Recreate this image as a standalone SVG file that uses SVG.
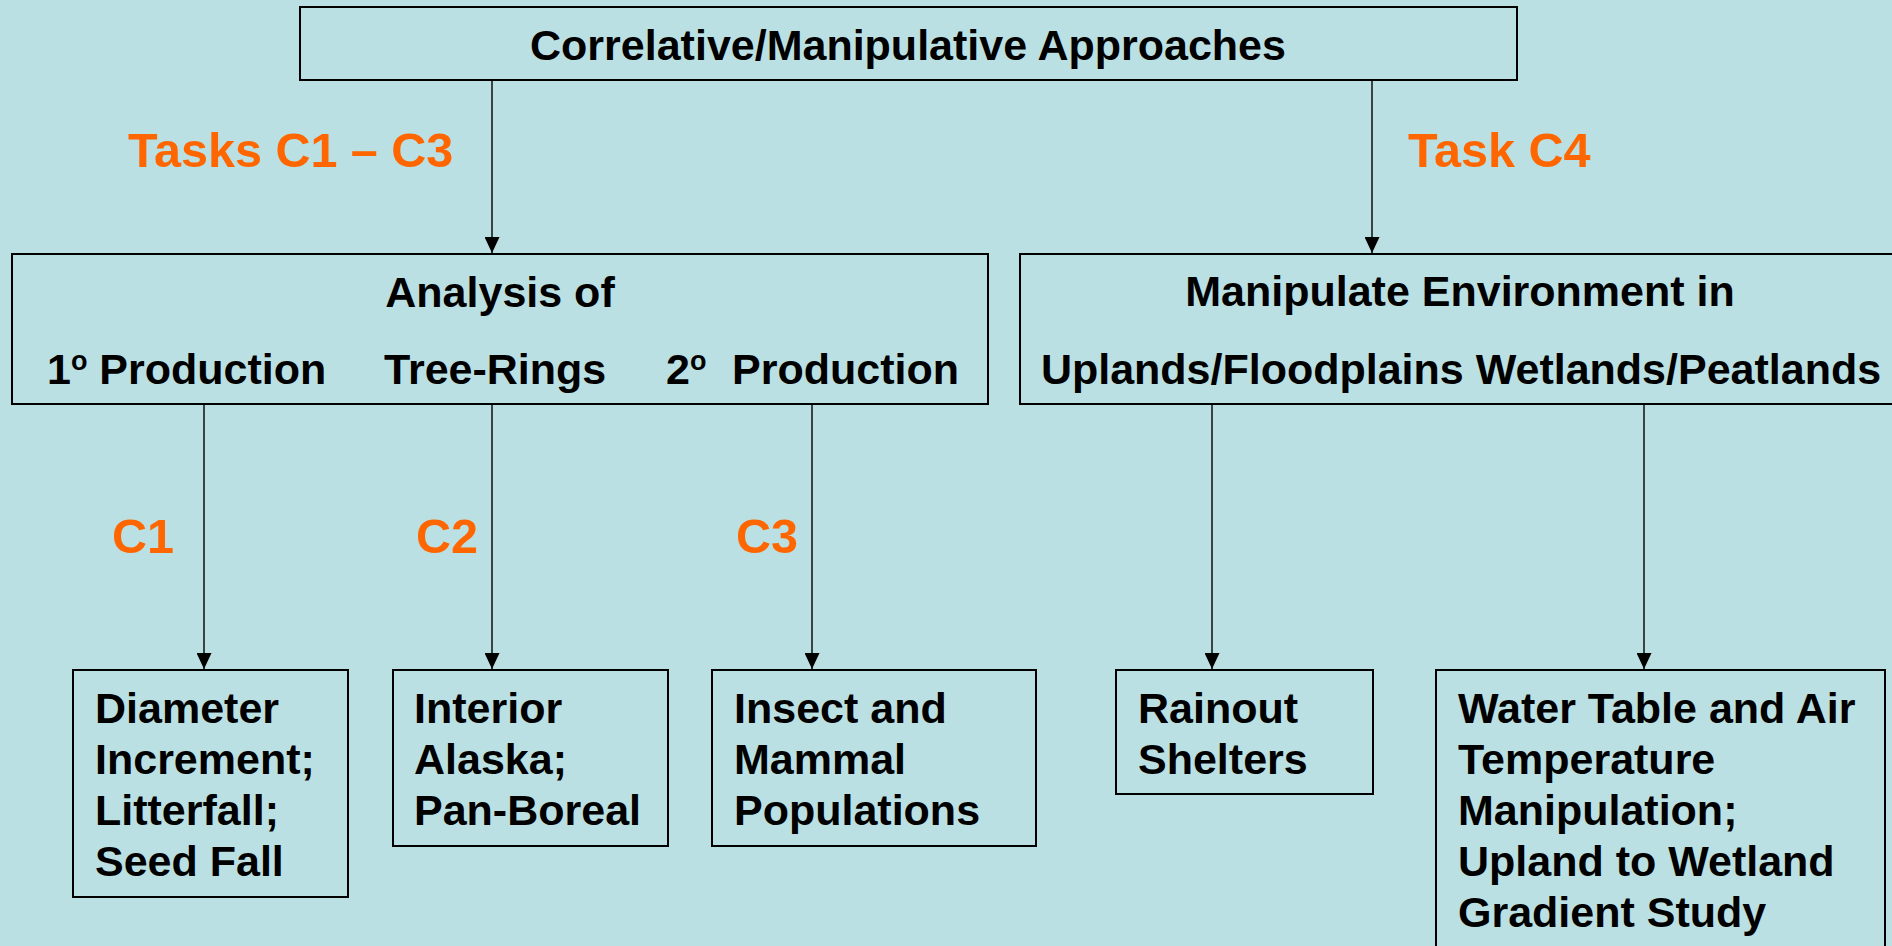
<svg xmlns="http://www.w3.org/2000/svg" width="1892" height="946" viewBox="0 0 1892 946">
<style>
.bg{fill:#BBE0E3}
.box{fill:#BBE0E3;stroke:#000;stroke-width:2}
.t{font-family:"Liberation Sans",Arial,sans-serif;font-weight:bold;font-size:43px;fill:#000}
.o{font-family:"Liberation Sans",Arial,sans-serif;font-weight:bold;font-size:48.5px;fill:#FF6600}
.c{text-anchor:middle}
.ln{stroke:#000;stroke-width:1.4;fill:none;marker-end:url(#ah)}
</style>
<defs>
<marker id="ah" markerUnits="userSpaceOnUse" markerWidth="17" markerHeight="15" refX="16" refY="7.5" orient="auto">
<path d="M0,0 L16,7.5 L0,15 Z" fill="#000"/>
</marker>
</defs>
<rect class="bg" x="0" y="0" width="1892" height="946"/>

<g id="labels">
<text class="o" x="128" y="167">Tasks C1 – C3</text>
<text class="o" x="1408" y="167">Task C4</text>
<text class="o" x="112" y="553">C1</text>
<text class="o" x="416" y="553">C2</text>
<text class="o" x="736" y="553">C3</text>
</g>

<g id="connectors">
<line class="ln" x1="492" y1="78" x2="492" y2="253"/>
<line class="ln" x1="1372" y1="78" x2="1372" y2="253"/>
<line class="ln" x1="204" y1="402" x2="204" y2="669"/>
<line class="ln" x1="492" y1="402" x2="492" y2="669"/>
<line class="ln" x1="812" y1="402" x2="812" y2="669"/>
<line class="ln" x1="1212" y1="402" x2="1212" y2="669"/>
<line class="ln" x1="1644" y1="402" x2="1644" y2="669"/>
</g>

<g id="top">
<rect class="box" x="300" y="7" width="1217" height="73"/>
<text class="t c" x="908" y="60">Correlative/Manipulative Approaches</text>
</g>

<g id="analysis">
<rect class="box" x="12" y="254" width="976" height="150"/>
<text class="t c" x="500" y="307">Analysis of</text>
<text class="t" x="47" y="384">1<tspan font-size="27" dy="-14">o</tspan><tspan dy="14"> Production</tspan></text>
<text class="t" x="384" y="384">Tree-Rings</text>
<text class="t" x="666" y="384">2<tspan font-size="27" dy="-14">o</tspan></text>
<text class="t" x="732" y="384">Production</text>
</g>

<g id="manipulate">
<rect class="box" x="1020" y="254" width="890" height="150"/>
<text class="t c" x="1460" y="306">Manipulate Environment in</text>
<text class="t c" x="1461" y="384">Uplands/Floodplains Wetlands/Peatlands</text>
</g>

<g id="box-c1">
<rect class="box" x="73" y="670" width="275" height="227"/>
<text class="t" x="95" y="723">Diameter</text>
<text class="t" x="95" y="774">Increment;</text>
<text class="t" x="95" y="825">Litterfall;</text>
<text class="t" x="95" y="876">Seed Fall</text>
</g>

<g id="box-c2">
<rect class="box" x="393" y="670" width="275" height="176"/>
<text class="t" x="414" y="723">Interior</text>
<text class="t" x="414" y="774">Alaska;</text>
<text class="t" x="414" y="825">Pan-Boreal</text>
</g>

<g id="box-c3">
<rect class="box" x="712" y="670" width="324" height="176"/>
<text class="t" x="734" y="723">Insect and</text>
<text class="t" x="734" y="774">Mammal</text>
<text class="t" x="734" y="825">Populations</text>
</g>

<g id="box-rainout">
<rect class="box" x="1116" y="670" width="257" height="124"/>
<text class="t" x="1138" y="723">Rainout</text>
<text class="t" x="1138" y="774">Shelters</text>
</g>

<g id="box-watertable">
<rect class="box" x="1436" y="670" width="449" height="290"/>
<text class="t" x="1458" y="723">Water Table and Air</text>
<text class="t" x="1458" y="774">Temperature</text>
<text class="t" x="1458" y="825">Manipulation;</text>
<text class="t" x="1458" y="876">Upland to Wetland</text>
<text class="t" x="1458" y="927">Gradient Study</text>
</g>
</svg>
